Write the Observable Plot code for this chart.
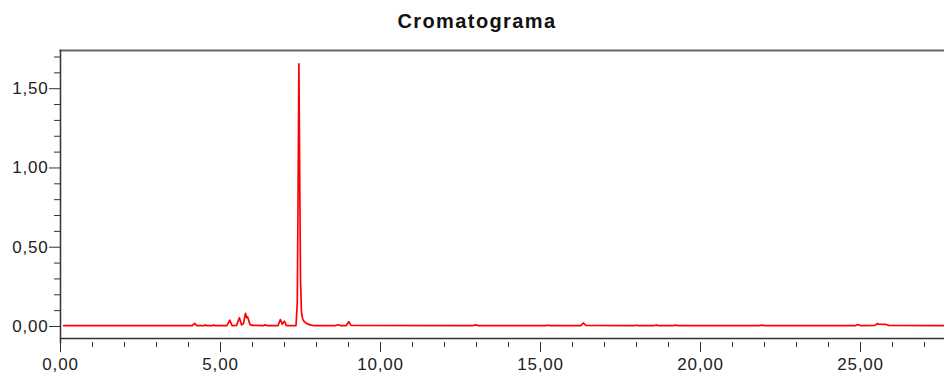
<!DOCTYPE html>
<html>
<head>
<meta charset="utf-8">
<script src="https://cdn.jsdelivr.net/npm/d3@7"></script>
<script src="https://cdn.jsdelivr.net/npm/@observablehq/plot@0.6"></script>
<style>
  html, body { margin: 0; padding: 0; background: #fff; }
  #title {
    height: 40px; box-sizing: border-box; padding-top: 10px; padding-left: 10px;
    text-align: center; font-family: "Liberation Sans", Arial, sans-serif;
    font-weight: bold; font-size: 20px; letter-spacing: 1.4px; color: #111; line-height: 23px;
  }
  #chart svg text { letter-spacing: 0.8px; }
</style>
</head>
<body>
<div id="title">Cromatograma</div>
<div id="chart"></div>
<script>
// Retention time (min)
const times = [
  0.10, 2.00, 4.00, 4.12, 4.19, 4.26, 4.50, 4.53, 4.57, 4.76, 4.79, 4.83,
  5.20, 5.29, 5.36, 5.50, 5.59, 5.66, 5.72, 5.78, 5.82, 5.85, 5.92, 6.00,
  6.35, 6.40, 6.45, 6.80, 6.87, 6.93, 7.00, 7.06, 7.36, 7.40, 7.43, 7.45,
  7.47, 7.50, 7.53, 7.57, 7.62, 7.70, 7.80, 7.90, 8.60, 8.68, 8.75, 8.93,
  9.01, 9.08, 12.90, 12.97, 13.04, 15.15, 15.22, 15.30, 16.26, 16.34, 16.42,
  17.95, 18.00, 18.05, 18.55, 18.62, 18.69, 19.15, 19.22, 19.29, 21.85, 21.92,
  21.99, 24.85, 24.92, 25.00, 25.45, 25.52, 25.58, 25.80, 25.88, 27.60
];
// Detector signal
const signal = [
  0.005, 0.005, 0.005, 0.005, 0.020, 0.005, 0.006, 0.010, 0.005, 0.006, 0.010, 0.005,
  0.006, 0.040, 0.006, 0.007, 0.055, 0.010, 0.020, 0.083, 0.055, 0.060, 0.012, 0.007,
  0.006, 0.010, 0.006, 0.006, 0.044, 0.015, 0.033, 0.006, 0.006, 0.150, 1.000, 1.657,
  1.100, 0.300, 0.090, 0.045, 0.030, 0.018, 0.010, 0.006, 0.006, 0.011, 0.006, 0.006,
  0.030, 0.007, 0.006, 0.010, 0.006, 0.006, 0.008, 0.006, 0.006, 0.022, 0.007,
  0.006, 0.008, 0.006, 0.006, 0.009, 0.006, 0.006, 0.009, 0.006, 0.006, 0.009,
  0.006, 0.006, 0.013, 0.006, 0.007, 0.018, 0.014, 0.013, 0.007, 0.006
];
const xMajorTicks = [0, 5, 10, 15, 20, 25];
const xMinorTicks = [1, 2, 3, 4, 6, 7, 8, 9, 11, 12, 13, 14, 16, 17, 18, 19, 21, 22, 23, 24, 26, 27];
const yMajorTicks = [0, 0.5, 1.0, 1.5];
const yMinorTicks = [0.1, 0.2, 0.3, 0.4, 0.6, 0.7, 0.8, 0.9, 1.1, 1.2, 1.3, 1.4, 1.6, 1.7];

const data = times.map((t, i) => ({t, v: signal[i]}));
const fmt = d => d.toFixed(2).replace(".", ",");

const chart = Plot.plot({
  width: 944,
  height: 333,
  marginLeft: 60,
  marginRight: 0,
  marginTop: 10,
  marginBottom: 31,
  style: {fontFamily: "'Liberation Sans', Arial, sans-serif", fontSize: "17px", color: "#222", background: "#fff"},
  x: {domain: [0, 27.625]},
  y: {domain: [-0.101, 1.741]},
  marks: [
    Plot.frame({anchor: "top", stroke: "#666", strokeWidth: 2}),
    Plot.frame({anchor: "left", stroke: "#333", strokeWidth: 1.5}),
    Plot.frame({anchor: "bottom", stroke: "#333", strokeWidth: 1.5, insetBottom: 4}),
    Plot.axisY({ticks: yMajorTicks, tickSize: 11, tickPadding: 1, tickFormat: fmt, label: null, stroke: "#333"}),
    Plot.axisY({ticks: yMinorTicks, tickSize: 6, tickFormat: () => "", label: null, stroke: "#333"}),
    Plot.axisX({ticks: xMajorTicks, tickSize: 10, tickPadding: 5, tickFormat: fmt, label: null, stroke: "#333"}),
    Plot.axisX({ticks: xMinorTicks, tickSize: 5, tickFormat: () => "", label: null, stroke: "#333"}),
    Plot.line(data, {x: "t", y: "v", stroke: "#ff0000", strokeWidth: 1.7})
  ]
});
document.getElementById("chart").appendChild(chart);
</script>
</body>
</html>
